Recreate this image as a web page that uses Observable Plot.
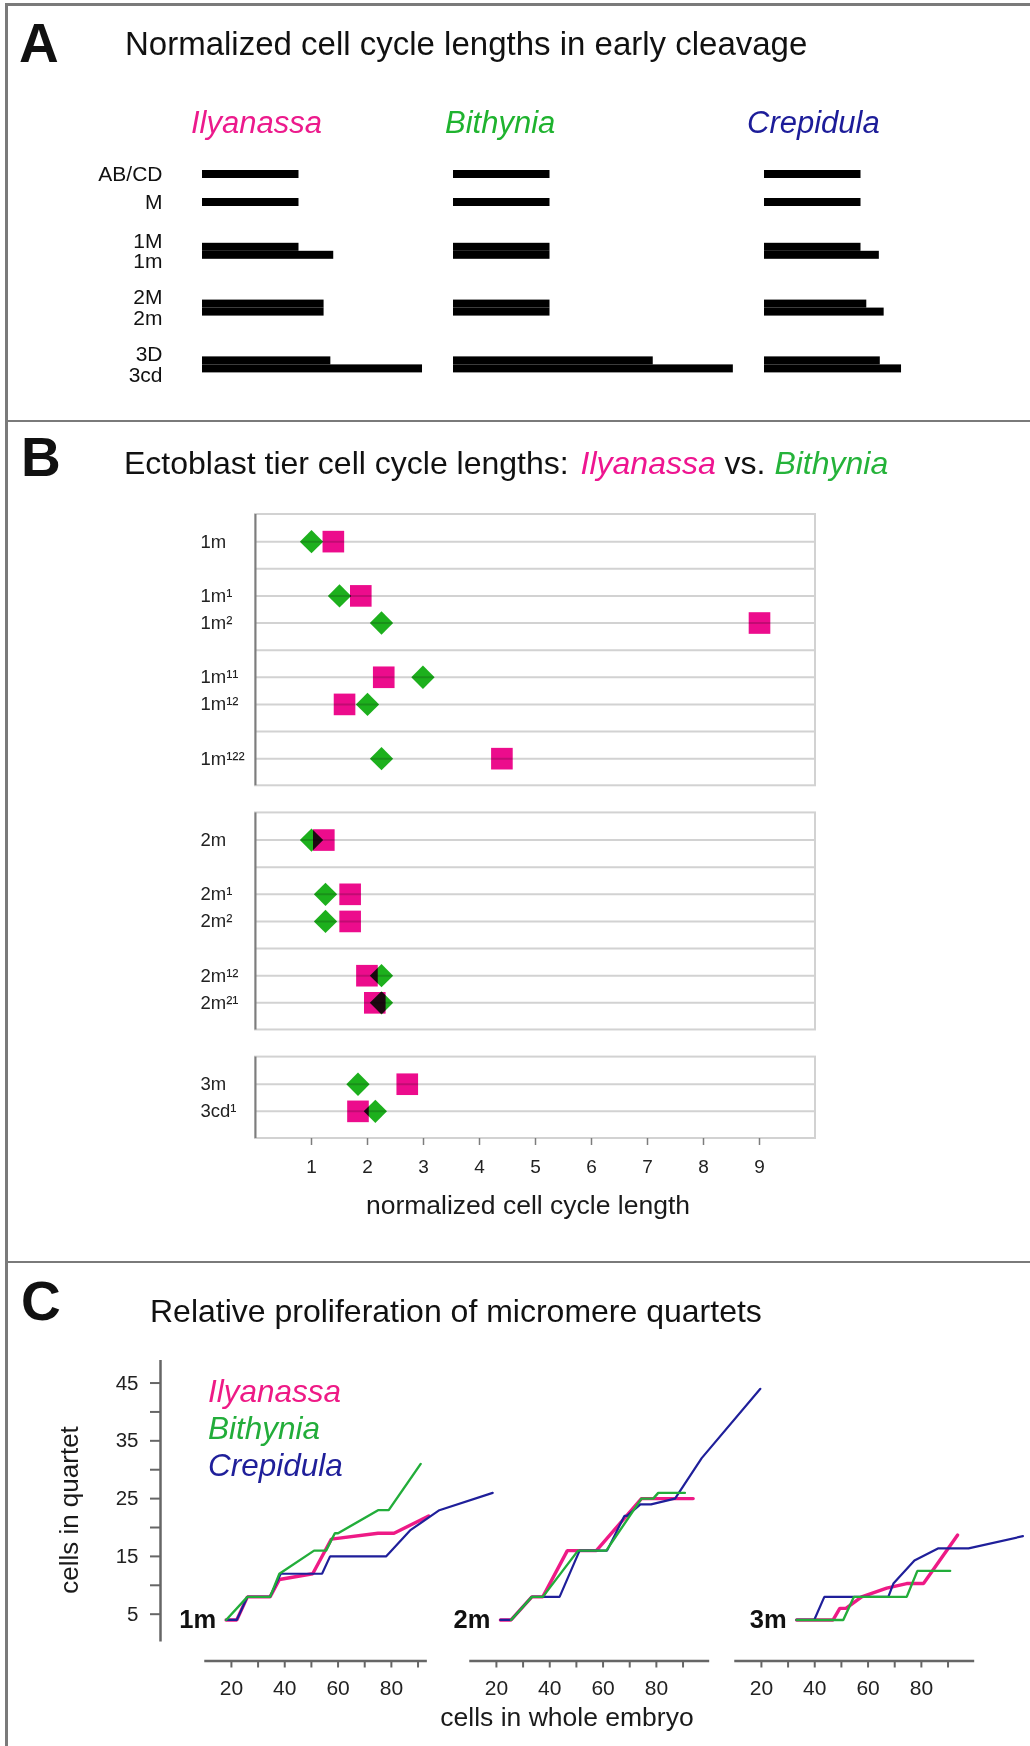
<!DOCTYPE html>
<html>
<head>
<meta charset="utf-8">
<script src="https://cdn.jsdelivr.net/npm/d3@7"></script>
<script src="https://cdn.jsdelivr.net/npm/@observablehq/plot@0.6"></script>
<style>
  html, body { margin: 0; padding: 0; background: #fff; }
  body { font-family: "Liberation Sans", Arial, Helvetica, sans-serif; color: #111; }
  #page { position: relative; width: 1030px; height: 1746px; overflow: hidden; background: #fff; }
  .abs { position: absolute; white-space: nowrap; line-height: 1; }
  .wrap { position: absolute; }
  .border { position: absolute; background: #7a7a7a; z-index: 5; }
</style>
</head>
<body>
<div id="page"></div>
<script>
// ================= DATA =================
// Panel A: normalized cell cycle lengths (AB/CD = 1)
const rowsA = ["AB/CD", "M", "1M", "1m", "2M", "2m", "3D", "3cd"];
const speciesA = ["Ilyanassa", "Bithynia", "Crepidula"];
const ilyanassaA = [1.00, 1.00, 1.00, 1.36, 1.26, 1.26, 1.33, 2.28];
const bithyniaA  = [1.00, 1.00, 1.00, 1.00, 1.00, 1.00, 2.07, 2.90];
const crepidulaA = [1.00, 1.00, 1.00, 1.19, 1.06, 1.24, 1.20, 1.42];
const groupsA = [["AB/CD"], ["M"], ["1M", "1m"], ["2M", "2m"], ["3D", "3cd"]];

// Panel B: ectoblast tier cell cycle lengths
const rowsB = ["1m", "1m¹", "1m²", "1m¹¹", "1m¹²", "1m¹²²", "2m", "2m¹", "2m²", "2m¹²", "2m²¹", "3m", "3cd¹"];
const ilyanassaB = [1.39, 1.88, 9.00, 2.29, 1.59, 4.40, 1.22, 1.69, 1.69, 1.99, 2.13, 2.71, 1.83];
const bithyniaB  = [1.00, 1.50, 2.25, 2.99, 2.00, 2.25, 1.00, 1.25, 1.25, 2.25, 2.25, 1.83, 2.14];
const ticksB = [1, 2, 3, 4, 5, 6, 7, 8, 9];
const tiersB = [
  [["1m"], ["1m¹", "1m²"], ["1m¹¹", "1m¹²"], ["1m¹²²"]],
  [["2m"], ["2m¹", "2m²"], ["2m¹²", "2m²¹"]],
  [["3m", "3cd¹"]]
];

// Panel C: cells in quartet vs cells in whole embryo
const panelsC = ["1m", "2m", "3m"];
const ticksCx = [20, 30, 40, 50, 60, 70, 80, 90];
const ticksCy = [5, 10, 15, 20, 25, 30, 35, 40, 45];
const axisEndC = [93.5, 100, 100];
const ilyanassa1m = [[18,4],[22,4],[26,8],[34.5,8],[38,11],[50.5,12],[57.5,18],[75,19],[81,19],[94,22]];
const bithynia1m  = [[18,4],[26,8],[34.5,8],[38,12],[51,16],[55.5,16],[58.8,19],[60,19],[75,23],[79,23],[91,31]];
const crepidula1m = [[18,4],[22,4],[26,8],[34.5,8],[38.5,12],[54,12],[57,15],[78,15],[87,19.5],[98,23],[118,26]];
const ilyanassa2m = [[21.5,4],[25.5,4],[33.3,8],[37.4,8],[46.6,16],[57.5,16],[74.4,25],[93.8,25]];
const bithynia2m  = [[25.5,4],[33.3,8],[37.4,8],[50.6,16],[61.2,16],[74.4,25],[78.8,25],[80.7,26],[90.7,26]];
const crepidula2m = [[21.5,4],[25.5,4],[33.3,8],[43.7,8],[51.2,16],[61.5,16],[68,22],[69,22],[74,24],[78,24],[87,25],[97,32],[119,44]];
const ilyanassa3m = [[33.2,4],[46.9,4],[49.4,6],[51.7,6],[57.6,8],[67,9.5],[74.5,10.3],[80.8,10.3],[93.6,18.7]];
const bithynia3m  = [[33.2,4],[50.7,4],[54.7,8],[74.5,8],[78.5,12.5],[90.8,12.5]];
const crepidula3m = [[33.2,4],[39.8,4],[43.6,8],[67.6,8],[69.5,10.3],[77.4,14.3],[86.4,16.4],[97.7,16.4],[118.1,18.5]];

// ================= STYLE =================
const PINK = "#ec0c8c", GREEN = "#1db01d";
const LINE_COL = {Ilyanassa: "#ee1a86", Bithynia: "#22ad3a", Crepidula: "#1f1f9a"};
const LINE_W = {Ilyanassa: 3.4, Bithynia: 2.4, Crepidula: 2.2};
const FONT = "'Liberation Sans', Arial, Helvetica, sans-serif";
const svgStyle = `background: transparent; overflow: visible; font-family: ${FONT};`;

const page = document.getElementById("page");

function txt(html, o) {
  const d = document.createElement("div");
  d.className = "abs";
  d.innerHTML = html;
  d.style.fontSize = o.size + "px";
  d.style.left = o.left + "px";
  d.style.top = (o.baseline - 0.8465 * o.size) + "px";
  if (o.weight) d.style.fontWeight = o.weight;
  if (o.italic) d.style.fontStyle = "italic";
  if (o.color) d.style.color = o.color;
  if (o.center) d.style.transform = "translateX(-50%)";
  page.appendChild(d);
  return d;
}
function place(svg, left, top, width) {
  const w = document.createElement("div");
  w.className = "wrap";
  w.style.left = left + "px";
  w.style.top = top + "px";
  w.style.width = width + "px";
  w.appendChild(svg);
  page.appendChild(w);
}
function border(left, top, width, height) {
  const b = document.createElement("div");
  b.className = "border";
  Object.assign(b.style, {left: left + "px", top: top + "px", width: width + "px", height: height + "px"});
  page.appendChild(b);
}

// ================= PANEL A =================
txt("A", {left: 19, baseline: 63, size: 55, weight: "bold"});
txt("Normalized cell cycle lengths in early cleavage", {left: 125, baseline: 55, size: 33});
txt("Ilyanassa", {left: 191, baseline: 133, size: 31, italic: true, color: "#ec1a8c"});
txt("Bithynia", {left: 445, baseline: 133, size: 31, italic: true, color: "#1fb32f"});
txt("Crepidula", {left: 747, baseline: 133, size: 31, italic: true, color: "#1c1c99"});

// layout of rows (in units of one bar thickness)
const gapA = [0, 2.5, 4.6, 5.1, 5.1];
const slotA = {};
let sA = 0;
groupsA.forEach((g, gi) => {
  sA += gapA[gi];
  g.forEach((r, ri) => { slotA[r] = {top: sA, pos: g.length === 1 ? 0 : (ri === 0 ? -1 : 1)}; sA += 1; });
});
const totalA = sA;
const BAR_PX = 8, UNIT_A = 96.5;
const valsA = {Ilyanassa: ilyanassaA, Bithynia: bithyniaA, Crepidula: crepidulaA};
const leftA = {Ilyanassa: 202, Bithynia: 453, Crepidula: 764};

speciesA.forEach(sp => {
  const data = rowsA.map((r, i) => ({row: r, v: valsA[sp][i], top: slotA[r].top, pos: slotA[r].pos}));
  const first = sp === "Ilyanassa";
  const ml = first ? leftA[sp] : 0;
  const w = ml + 3 * UNIT_A;
  const svg = Plot.plot({
    width: w, height: 20 + totalA * BAR_PX,
    marginLeft: ml, marginRight: 0, marginTop: 10, marginBottom: 10,
    style: svgStyle,
    x: {domain: [0, 3], axis: null},
    y: {domain: [0, totalA], reverse: true, axis: null},
    marks: [
      Plot.rect(data, {x1: 0, x2: "v", y1: "top", y2: d => d.top + 1, fill: "#000"}),
      first ? Plot.text(data, {x: 0, y: d => d.top + 0.5 + d.pos * 0.8, text: "row", textAnchor: "end",
                               dx: -40, fontSize: 21, fill: "#111"}) : null
    ]
  });
  place(svg, first ? 0 : leftA[sp], 160, w);
});

// ================= PANEL B =================
txt("B", {left: 21, baseline: 477, size: 55, weight: "bold"});
txt(`Ectoblast tier cell cycle lengths: <i style="color:#ee1590;margin-left:3px">Ilyanassa</i> vs. <i style="color:#25b33a">Bithynia</i>`,
    {left: 124, baseline: 474, size: 32});

const slotB = {}, gridB = [], framesB = [];
let tB = 0;
tiersB.forEach(tier => {
  const top = tB; tB += 1;
  tier.forEach((sub, j) => {
    if (j > 0) { gridB.push(tB); tB += 1; }
    sub.forEach(r => { slotB[r] = tB; gridB.push(tB); tB += 1; });
  });
  framesB.push({top, bottom: tB});
  tB += 1;
});
const totalB = tB - 1;
const SLOT_B = 27.13;
const dataB = rowsB.map((r, i) => ({row: r, slot: slotB[r], ily: ilyanassaB[i], bit: bithyniaB[i]}));
const mtB = 24, mbB = 60;
const svgB = Plot.plot({
  width: 1030, height: mtB + totalB * SLOT_B + mbB,
  marginLeft: 255, marginRight: 215, marginTop: mtB, marginBottom: mbB,
  style: svgStyle,
  x: {domain: [0, 10]},
  y: {domain: [0, totalB], reverse: true, axis: null},
  marks: [
    Plot.ruleY(gridB, {stroke: "#d2d2d2", strokeWidth: 2}),
    Plot.rect(framesB, {x1: 0, x2: 10, y1: "top", y2: "bottom", stroke: "#d2d2d2", strokeWidth: 2, fill: "none"}),
    Plot.ruleX(framesB, {x: 0, y1: "top", y2: "bottom", stroke: "#7d7d7d", strokeWidth: 2}),
    Plot.axisX({ticks: ticksB, tickSize: 7, tickPadding: 14, fontSize: 19, stroke: "#7d7d7d", strokeWidth: 1.5, fill: "#222", label: null}),
    Plot.text(dataB, {x: 0, y: "slot", text: "row", textAnchor: "start", dx: -55, fontSize: 18.5, fill: "#222"}),
    Plot.dot(dataB, {x: "ily", y: "slot", symbol: "square", r: 12.2, fill: PINK, mixBlendMode: "multiply"}),
    Plot.dot(dataB, {x: "bit", y: "slot", symbol: "diamond2", r: 10.5, fill: GREEN, mixBlendMode: "multiply"})
  ]
});
place(svgB, 0, 514 - mtB, 1030);
txt("normalized cell cycle length", {left: 528, baseline: 1214, size: 26.5, center: true, color: "#1a1a1a"});

// ================= PANEL C =================
txt("C", {left: 21, baseline: 1321, size: 55, weight: "bold"});
txt("Relative proliferation of micromere quartets", {left: 150, baseline: 1322, size: 32});

const seriesC = [
  {panel: "1m", species: "Ilyanassa", pts: ilyanassa1m},
  {panel: "1m", species: "Crepidula", pts: crepidula1m},
  {panel: "1m", species: "Bithynia", pts: bithynia1m},
  {panel: "2m", species: "Ilyanassa", pts: ilyanassa2m},
  {panel: "2m", species: "Crepidula", pts: crepidula2m},
  {panel: "2m", species: "Bithynia", pts: bithynia2m},
  {panel: "3m", species: "Ilyanassa", pts: ilyanassa3m},
  {panel: "3m", species: "Crepidula", pts: crepidula3m},
  {panel: "3m", species: "Bithynia", pts: bithynia3m}
];
const dataC = seriesC.flatMap(s => s.pts.map(([x, y]) => ({panel: s.panel, species: s.species, x, y})));
const labelsC = panelsC.map(p => {
  const pts = dataC.filter(d => d.panel === p);
  const x0 = d3.min(pts, d => d.x);
  return {panel: p, x: x0, y: pts.find(d => d.x === x0).y};
});
const axisC = panelsC.map((p, i) => ({panel: p, from: 10, to: axisEndC[i]}));
const xDomC = [-6.6, 92.8], yDomC = [-3.1, 48.9];
const mtC = 20, mbC = 50, plotHC = 300.5;
const svgC = Plot.plot({
  width: 1030, height: mtC + plotHC + mbC,
  marginLeft: 160, marginRight: 75, marginTop: mtC, marginBottom: mbC,
  style: svgStyle,
  fx: {domain: panelsC, padding: 0, axis: null, label: null},
  x: {domain: xDomC},
  y: {domain: yDomC},
  marks: [
    Plot.ruleY(axisC, {fx: "panel", x1: "from", x2: "to", y: yDomC[0], stroke: "#666", strokeWidth: 2.5}),
    Plot.axisX({ticks: ticksCx, tickFormat: d => d % 20 === 0 ? d : "", tickSize: 7, tickPadding: 12,
                fontSize: 21, stroke: "#666", strokeWidth: 2, fill: "#222", label: null}),
    Plot.axisY({ticks: ticksCy, tickFormat: d => d % 10 === 5 ? d : "", tickSize: 10, tickPadding: 12,
                fontSize: 20.5, stroke: "#666", strokeWidth: 2, fill: "#222", label: null}),
    Plot.ruleX([{panel: "1m"}], {fx: "panel", x: xDomC[0], y1: 0.2, y2: yDomC[1], stroke: "#666", strokeWidth: 2.5}),
    ...["Ilyanassa", "Crepidula", "Bithynia"].map(sp =>
      Plot.line(dataC.filter(d => d.species === sp), {fx: "panel", x: "x", y: "y", z: "panel",
        stroke: LINE_COL[sp], strokeWidth: LINE_W[sp], strokeLinejoin: "miter"})),
    Plot.text(labelsC, {fx: "panel", x: "x", y: "y", text: "panel", textAnchor: "end", dx: -10,
                        fontSize: 25.5, fontWeight: "bold", fill: "#111"})
  ]
});
place(svgC, 0, 1360 - mtC, 1030);

txt("Ilyanassa", {left: 208, baseline: 1403, size: 31.5, italic: true, color: "#ee1a86"});
txt("Bithynia", {left: 208, baseline: 1440, size: 31.5, italic: true, color: "#22ad3a"});
txt("Crepidula", {left: 208, baseline: 1477, size: 31.5, italic: true, color: "#1f1f9a"});
txt("cells in whole embryo", {left: 567, baseline: 1726, size: 26.5, center: true, color: "#1a1a1a"});
const yl = txt("cells in quartet", {left: 69, baseline: 1510, size: 26, color: "#1a1a1a"});
yl.style.top = "1510px";
yl.style.transform = "translate(-50%, -50%) rotate(-90deg)";

// ================= FRAME =================
border(5, 3, 1030, 2.5);
border(5, 419.5, 1030, 2.5);
border(5, 1260.5, 1030, 2.5);
border(5, 3, 2.5, 1746);
</script>
</body>
</html>
